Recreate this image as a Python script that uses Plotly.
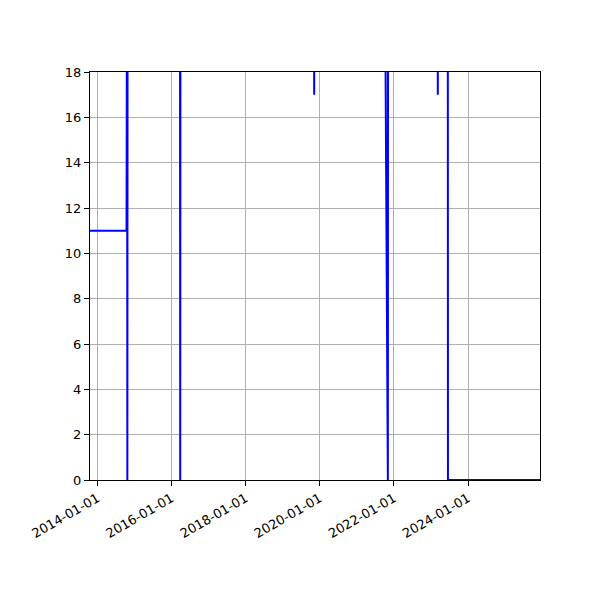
import plotly.graph_objects as go

# readings (values above 18 run off the top of the axis)
dates = [
    "2013-10-20", "2014-10-15", "2014-10-17", "2014-10-20", "2014-10-23", "2014-10-26",
    "2016-03-24", "2016-03-27", "2016-03-30",
    "2019-11-01", "2019-11-05", "2019-11-07", "2019-11-11",
    "2021-10-10", "2021-11-02", "2021-11-04",
    "2023-03-05", "2023-03-09", "2023-03-13",
    "2023-06-15", "2023-06-17", "2024-06-01", "2025-12-10",
]
values = [
    11, 11, 16, 30, 0, 30,
    30, 0, 30,
    30, 17, 17, 30,
    18.5, 0, 30,
    30, 17, 30,
    30, 0, 0, 0,
]

tick_dates = ["2014-01-01", "2016-01-01", "2018-01-01", "2020-01-01", "2022-01-01", "2024-01-01"]
y_ticks = [0, 2, 4, 6, 8, 10, 12, 14, 16, 18]

fig = go.Figure()
fig.add_trace(go.Scatter(x=dates, y=values, mode="lines",
                         line=dict(color="blue", width=2)))

fig.update_layout(
    width=600, height=600,
    margin=dict(l=82, r=68, t=64, b=128),
    paper_bgcolor="white", plot_bgcolor="white",
    showlegend=False,
    font=dict(family="DejaVu Sans", size=13, color="black"),
)
fig.update_xaxes(
    range=["2013-10-20", "2025-12-10"],
    tickvals=tick_dates, ticktext=tick_dates, tickangle=-30,
    showgrid=True, gridcolor="#b0b0b0", gridwidth=1,
    showline=True, linecolor="black", linewidth=1, mirror=True,
    ticks="outside", ticklen=5, tickcolor="black", zeroline=False,
)
fig.update_yaxes(
    range=[0, 18], tickvals=y_ticks,
    showgrid=True, gridcolor="#b0b0b0", gridwidth=1,
    showline=True, linecolor="black", linewidth=1, mirror=True,
    ticks="outside", ticklen=5, tickcolor="black", zeroline=False,
)

fig.write_html("out.html")
